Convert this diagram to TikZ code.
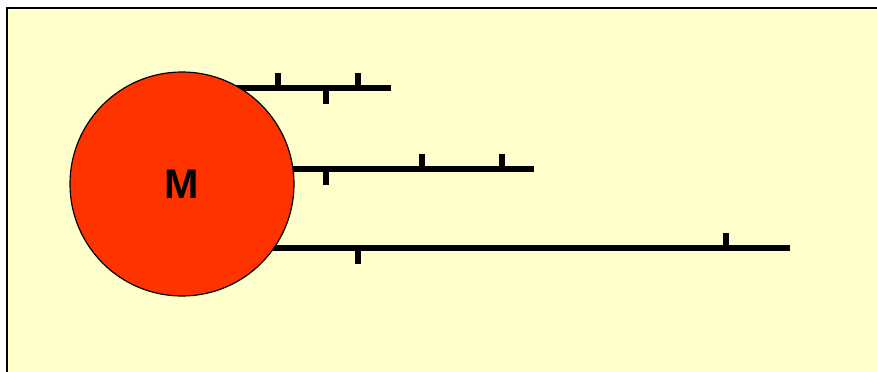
\documentclass[tikz,border=0pt]{standalone}
\usepackage{fontspec}
\setmainfont{Liberation Sans}
\usetikzlibrary{calc}
\definecolor{paper}{HTML}{FFFFCC}
\definecolor{massred}{HTML}{FF3300}
\tikzset{
	rod/.style={line width=3.9pt},
	notch/.style={line width=3.9pt},
	mass/.style={circle, draw, line width=0.9pt, fill=massred, inner sep=0pt, minimum size=168pt, font=\fontsize{31}{36}\selectfont\bfseries}
}
\def\upnotch(#1,#2){\draw[notch] (#1,#2) -- (#1,#2-15);}
\def\downnotch(#1,#2){\draw[notch] (#1,#2) -- (#1,#2+16);}

\begin{document}
\begin{tikzpicture}[x=0.75pt,y=-0.75pt]
			%%%%% START %%%%%
			\useasboundingbox (0,0) rectangle (877,371);
			\draw[line width=1.3pt, fill=paper] (7,8) rectangle (890,385);
			
			\coordinate (rodA) at (182,88);
			\coordinate (endA) at (391,88);
			\coordinate (rodB) at (182,169);
			\coordinate (endB) at (534,169);
			\coordinate (rodC) at (182,248);
			\coordinate (endC) at (790,248);
			
			\draw[rod] (rodA) -- (endA);
			\upnotch(278,88)
			\upnotch(358,88)
			\downnotch(326,88)
			
			\draw[rod] (rodB) -- (endB);
			\upnotch(422,169)
			\upnotch(502,169)
			\downnotch(326,169)
			
			\draw[rod] (rodC) -- (endC);
			\upnotch(726,248)
			\downnotch(358,248)
			
			\node[mass] (M) at (182,184) {M};
			%%%%% END %%%%%
\end{tikzpicture}
\end{document}
